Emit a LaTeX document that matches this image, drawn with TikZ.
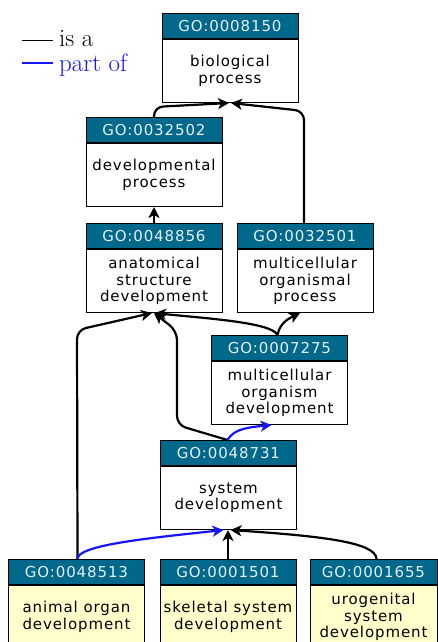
\documentclass[tikz,border=0pt]{standalone}
\usepackage{fontspec}
\usetikzlibrary{arrows.meta}
\newfontfamily\gofont[LetterSpace=6]{DejaVu Sans}
\definecolor{gohead}{RGB}{0,104,139}
\definecolor{gotext}{RGB}{230,240,245}
\definecolor{goleaf}{RGB}{255,255,204}
\definecolor{partblue}{RGB}{20,20,255}
\tikzset{
  gohd/.style={rectangle, draw=black, line width=1pt, fill=gohead, text=gotext,
    minimum width=136pt, minimum height=25pt, inner sep=0pt,
    font=\gofont\fontsize{15}{18}\selectfont},
  gobd/.style={rectangle, draw=black, line width=1pt, fill=white,
    minimum width=136pt, minimum height=63pt, inner sep=0pt, align=center,
    font=\gofont\fontsize{15}{16.5}\selectfont},
  goleafbd/.style={gobd, fill=goleaf},
  isa/.style={draw=black, line width=2.2pt, -{Stealth[length=11pt,width=11pt,inset=3pt]}},
  partof/.style={draw=partblue, line width=2.2pt, -{Stealth[length=11pt,width=11pt,inset=3pt]}},
}
\newcommand{\gonode}[6]{%
  \node[gohd, anchor=north, #6] (h#1) at (#2) {#3};
  \node[#5, anchor=north, #6] (b#1) at (h#1.south) {#4};
}
\begin{document}
\begin{tikzpicture}[x=1pt,y=-1pt]
\useasboundingbox (0,0) rectangle (438,642);
\clip (0,0) rectangle (438,642);
% legend
\coordinate (l1a) at (22,41);
\coordinate (l1b) at (53,41);
\coordinate (l2a) at (22,63);
\coordinate (l2b) at (53,63);
\draw[line width=1pt] (l1a) -- (l1b);
\draw[partblue, line width=1.8pt] (l2a) -- (l2b);
\node[anchor=base west, inner sep=0pt, font=\fontsize{25}{29}\selectfont] (lisa) at (59,46.5) {is a};
\node[anchor=base west, inner sep=0pt, text=partblue, font=\fontsize{25}{29}\selectfont] (lpart) at (59,71.5) {part of};
% nodes
\gonode{A}{230,13}{GO:0008150}{biological\\process}{gobd}{}
\gonode{B}{154,117}{GO:0032502}{developmental\\process}{gobd}{}
\gonode{C}{154,223}{GO:0048856}{anatomical\\structure\\development}{gobd}{}
\gonode{D}{305,223}{GO:0032501}{multicellular\\organismal\\process}{gobd}{}
\gonode{E}{279.5,335}{GO:0007275}{multicellular\\organism\\development}{gobd}{}
\gonode{F}{228.5,440}{GO:0048731}{system\\development}{gobd}{}
\gonode{G}{76.5,559}{GO:0048513}{animal organ\\development}{goleafbd}{}
\gonode{H}{228,559}{GO:0001501}{skeletal system\\development}{goleafbd}{}
\gonode{I}{373.5,559}{GO:0001655}{urogenital\\system\\development}{goleafbd}{minimum width=127pt}
% edges
\draw[isa, rounded corners=9pt] (hB.north) -- (154,107) -- ([xshift=-1pt]bA.south);
\draw[isa, rounded corners=9pt] ([xshift=-1pt]hD.north) -- (304,111) -- ([xshift=1pt]bA.south);
\draw[isa] (hC.north) -- (bC.north |- bB.south);
\draw[isa, rounded corners=9pt] ([xshift=1pt]hG.north) -- (77,330) -- ([xshift=-2pt]bC.south);
\draw[isa, rounded corners=9pt] ([xshift=-1pt]hF.north) -- (177,425) -- (177,331) -- (bC.south);
\draw[isa] ([xshift=-2pt]hE.north) .. controls (272,322) and (200,318) .. ([xshift=1pt]bC.south);
\draw[isa] ([xshift=-2pt]hE.north) .. controls (280,322) and (290,318) .. ([xshift=-5pt]bD.south);
\draw[partof] ([xshift=-1pt]hF.north) .. controls (234,428) and (252,427) .. ([xshift=-8pt]bE.south);
\draw[partof] ([xshift=1pt]hG.north) .. controls (77,545) and (150,538) .. ([xshift=-5pt]bF.south);
\draw[isa] (hH.north) -- (hH.north |- bF.south);
\draw[isa] ([xshift=3pt]hI.north) .. controls (376,542) and (320,536) .. ([xshift=2pt]bF.south);
\end{tikzpicture}
\end{document}
